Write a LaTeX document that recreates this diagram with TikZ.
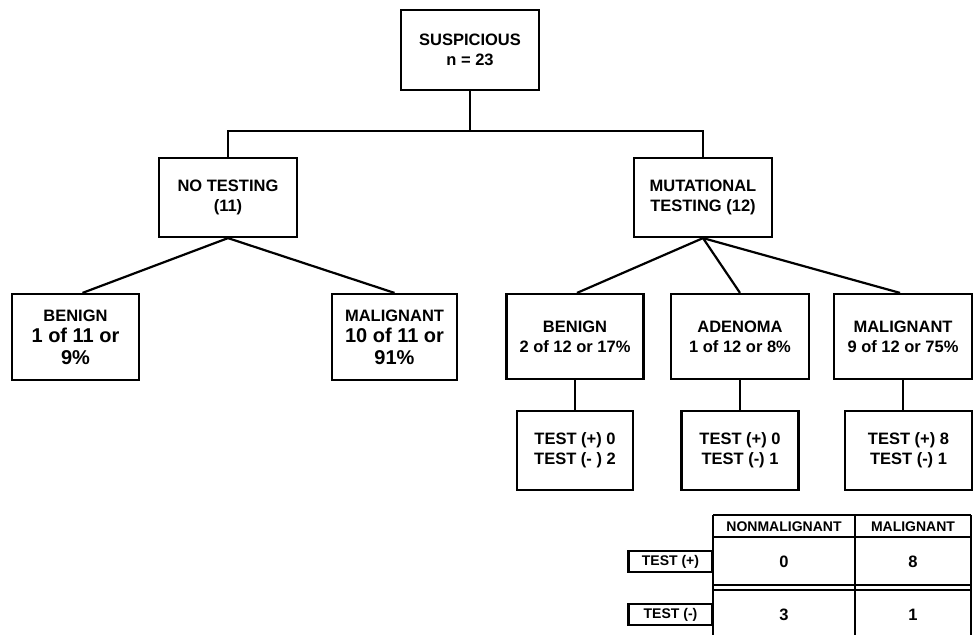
\documentclass[tikz,border=0pt]{standalone}
\usepackage{fontspec}
\setmainfont{Liberation Sans}
\begin{document}
\begin{tikzpicture}[x=1pt,y=-1pt,
  box/.style={draw, line width=2.2pt, align=center, inner sep=0pt,
    font=\fontsize{16.5}{20}\selectfont\bfseries},
  bigbox/.style={box, font=\fontsize{20}{21.5}\selectfont\bfseries},
  cell/.style={inner sep=0pt, font=\fontsize{16.5}{20}\selectfont\bfseries},
  hdr/.style={inner sep=0pt, font=\fontsize{14}{16}\selectfont\bfseries},
  lab/.style={draw, line width=2.2pt, inner sep=0pt, minimum width=84pt, minimum height=21pt,
    font=\fontsize{14}{16}\selectfont\bfseries},
  conn/.style={line width=2.2pt}
]
\useasboundingbox (0,0) rectangle (974,635);
% tree nodes
\node[box, minimum width=138pt, minimum height=80pt] (sus) at (470,50) {SUSPICIOUS\\n = 23};
\node[box, minimum width=138pt, minimum height=79pt] (not) at (228,197.5) {NO TESTING\\(11)};
\node[box, minimum width=138pt, minimum height=79pt] (mut) at (703,197.5) {MUTATIONAL\\TESTING (12)};
\node[bigbox, minimum width=127pt, minimum height=86pt] (ben1) at (75.5,337) {{\fontsize{16.5}{20}\selectfont BENIGN}\\1 of 11 or\\9\%};
\node[bigbox, minimum width=125pt, minimum height=86pt] (mal1) at (394.5,337) {{\fontsize{16.5}{20}\selectfont MALIGNANT}\\10 of 11 or\\91\%};
\node[box, minimum width=137pt, minimum height=85pt] (ben2) at (575,336.5) {BENIGN\\2 of 12 or 17\%};
\node[box, minimum width=138pt, minimum height=85pt] (ade) at (740,336.5) {ADENOMA\\1 of 12 or 8\%};
\node[box, minimum width=138pt, minimum height=85pt] (mal2) at (903,336.5) {MALIGNANT\\9 of 12 or 75\%};
\node[box, minimum width=116pt, minimum height=79pt] (t1) at (575,450.5) {TEST (+) 0\\TEST (- ) 2};
\node[box, minimum width=117pt, minimum height=79pt] (t2) at (740,450.5) {TEST (+) 0\\TEST (-) 1};
\node[box, minimum width=127pt, minimum height=79pt] (t3) at (908.5,450.5) {TEST (+) 8\\TEST (-) 1};
% connectors
\coordinate (bar) at (470,131);
\draw[conn] (sus.south) -- (bar);
\draw[conn] (not.north) |- (bar) -| (mut.north);
\draw[conn] (not.south) -- ([xshift=7pt]ben1.north);
\draw[conn] (not.south) -- (mal1.north);
\draw[conn] (mut.south) -- ([xshift=2pt]ben2.north);
\draw[conn] (mut.south) -- (ade.north);
\draw[conn] (mut.south) -- ([xshift=-3pt]mal2.north);
\draw[conn] (ben2.south) -- (ben2.south |- t1.north);
\draw[conn] (ade.south) -- (ade.south |- t2.north);
\draw[conn] (mal2.south) -- (mal2.south |- t3.north);
% table
\draw[conn] (713,515) -- (971,515);
\draw[conn] (713,537) -- (971,537);
\draw[conn] (713,585) -- (971,585);
\draw[conn] (713,590) -- (971,590);
\draw[conn] (713,515) -- (713,635);
\draw[conn] (855,515) -- (855,635);
\draw[conn] (971,515) -- (971,635);
\node[hdr] (h1) at (784,526.5) {NONMALIGNANT};
\node[hdr] (h2) at (913,526.5) {MALIGNANT};
\node[cell] (c11) at (784,561.5) {0};
\node[cell] (c12) at (913,561.5) {8};
\node[cell] (c21) at (784,614.5) {3};
\node[cell] (c22) at (913,614.5) {1};
\node[lab] (tp) at (670.5,561.5) {TEST (+)};
\node[lab] (tm) at (670.5,614.5) {TEST (-)};
\end{tikzpicture}
\end{document}
